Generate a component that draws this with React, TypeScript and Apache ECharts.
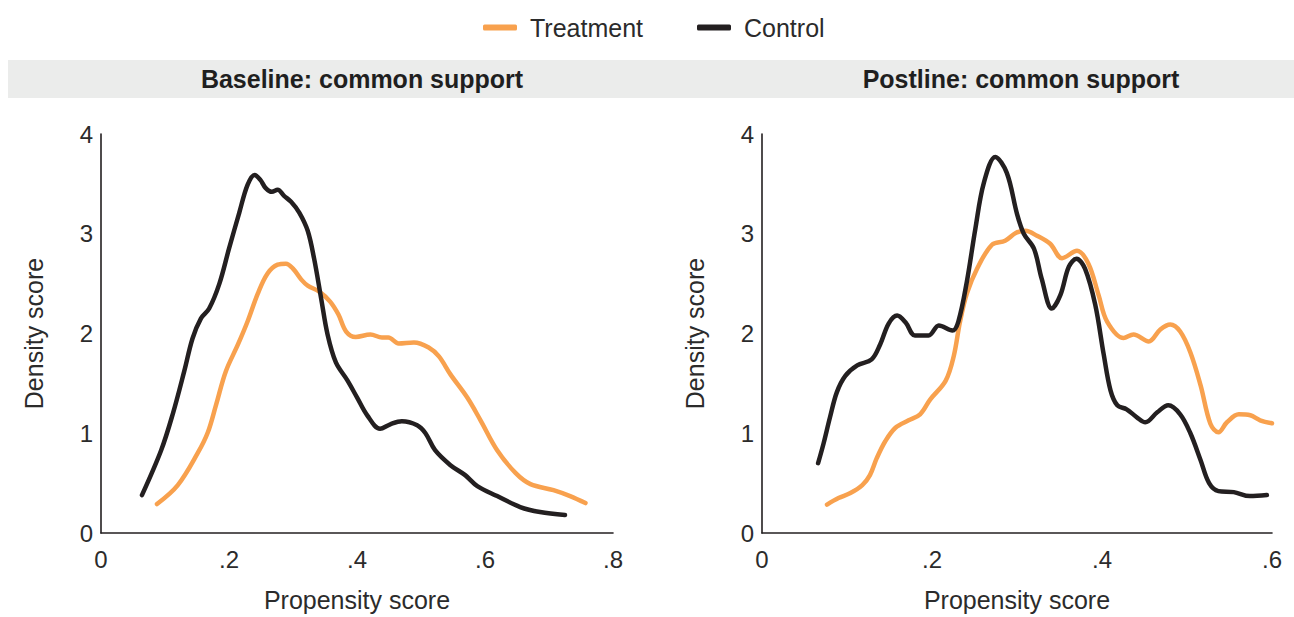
import React, { useEffect, useRef } from "react";
import * as echarts from "echarts";

// ---- Data ----
const seriesNames = ["Treatment", "Control"];
const panelTitles = ["Baseline: common support", "Postline: common support"];
const xTicksLeft = ["0", ".2", ".4", ".6", ".8"];
const xTicksRight = ["0", ".2", ".4", ".6"];
const yTicks = ["0", "1", "2", "3", "4"];

const baseTreatX = [0.0875, 0.12, 0.151, 0.167, 0.18, 0.195, 0.214, 0.229, 0.245, 0.26, 0.276, 0.289, 0.3, 0.313, 0.323, 0.341, 0.358, 0.371, 0.383, 0.398, 0.421, 0.439, 0.449, 0.465, 0.489, 0.512, 0.528, 0.546, 0.572, 0.593, 0.619, 0.648, 0.671, 0.707, 0.733, 0.757];
const baseTreatY = [0.29, 0.48, 0.8, 1.01, 1.29, 1.62, 1.89, 2.12, 2.4, 2.6, 2.69, 2.7, 2.65, 2.54, 2.48, 2.42, 2.32, 2.19, 2.02, 1.965, 1.99, 1.96, 1.96, 1.9, 1.91, 1.86, 1.77, 1.59, 1.36, 1.13, 0.83, 0.6, 0.49, 0.43, 0.37, 0.3];

const baseCtrlX = [0.064, 0.094, 0.112, 0.13, 0.143, 0.156, 0.169, 0.185, 0.2, 0.216, 0.229, 0.24, 0.249, 0.257, 0.267, 0.276, 0.286, 0.297, 0.31, 0.323, 0.333, 0.344, 0.354, 0.367, 0.385, 0.4, 0.416, 0.436, 0.452, 0.47, 0.494, 0.507, 0.522, 0.546, 0.569, 0.588, 0.619, 0.655, 0.686, 0.725];
const baseCtrlY = [0.38, 0.83, 1.19, 1.62, 1.95, 2.15, 2.25, 2.5, 2.85, 3.21, 3.49, 3.59, 3.54, 3.46, 3.42, 3.44, 3.38, 3.32, 3.21, 3.03, 2.75, 2.35, 1.99, 1.71, 1.53, 1.36, 1.18, 1.045, 1.09, 1.12, 1.08, 1.0, 0.83, 0.68, 0.58, 0.47, 0.37, 0.26, 0.21, 0.18];

const postTreatX = [0.0765, 0.09, 0.104, 0.118, 0.127, 0.135, 0.145, 0.157, 0.1725, 0.186, 0.198, 0.216, 0.2255, 0.233, 0.241, 0.253, 0.2706, 0.286, 0.299, 0.31, 0.3235, 0.339, 0.353, 0.3706, 0.384, 0.396, 0.406, 0.4255, 0.437, 0.455, 0.4686, 0.4804, 0.492, 0.504, 0.516, 0.5275, 0.537, 0.547, 0.561, 0.5745, 0.586, 0.6];
const postTreatY = [0.285, 0.35, 0.4, 0.48, 0.58, 0.75, 0.92, 1.055, 1.13, 1.19, 1.34, 1.525, 1.77, 2.12, 2.4, 2.65, 2.89, 2.93, 3.01, 3.03, 2.98, 2.9, 2.755, 2.83, 2.7, 2.385, 2.12, 1.955, 1.99, 1.92, 2.04, 2.09, 2.02, 1.81, 1.48, 1.095, 1.01, 1.11, 1.19, 1.18, 1.13, 1.1];

const postCtrlX = [0.066, 0.0725, 0.08, 0.088, 0.098, 0.112, 0.129, 0.139, 0.149, 0.159, 0.169, 0.18, 0.196, 0.208, 0.224, 0.231, 0.241, 0.251, 0.261, 0.2745, 0.288, 0.3, 0.308, 0.32, 0.329, 0.341, 0.351, 0.361, 0.37, 0.38, 0.392, 0.402, 0.41, 0.418, 0.429, 0.441, 0.451, 0.465, 0.478, 0.492, 0.504, 0.516, 0.526, 0.537, 0.555, 0.574, 0.594];
const postCtrlY = [0.7, 0.9, 1.16, 1.41, 1.575, 1.68, 1.74, 1.89, 2.1, 2.18, 2.11, 1.98, 1.98, 2.08, 2.03, 2.12, 2.52, 3.05, 3.51, 3.77, 3.61, 3.2, 3.0, 2.85, 2.55, 2.25, 2.385, 2.67, 2.75, 2.65, 2.29, 1.79, 1.43, 1.28, 1.24, 1.16, 1.11, 1.21, 1.28, 1.19, 1.0, 0.73, 0.5, 0.42, 0.41, 0.37, 0.38];

const ORANGE = "#F8A14E";
const BLACK = "#231F20";
const TEXT = "#2b2b2b";
const FONT = "Liberation Sans, Arial, Helvetica, sans-serif";

const zip = (xs: number[], ys: number[]) => xs.map((x, i) => [x, ys[i]]);

export default function App() {
  const ref = useRef<HTMLDivElement>(null);

  useEffect(() => {
    if (!ref.current) return;
    const chart = echarts.init(ref.current, undefined, { renderer: "svg" });

    const grids = [
      { left: 101, top: 134, width: 512, height: 403 },
      { left: 762, top: 134, width: 510, height: 403 },
    ];

    const axisLine = { show: true, lineStyle: { color: BLACK, width: 1.6 } };
    const labelStyle = { color: TEXT, fontSize: 24, fontFamily: FONT };
    const nameStyle = { color: TEXT, fontSize: 25, fontFamily: FONT };

    const xAxes = [
      { max: 0.8, ticks: xTicksLeft },
      { max: 0.6, ticks: xTicksRight },
    ].map((a, i) => ({
      type: "value",
      gridIndex: i,
      min: 0,
      max: a.max,
      interval: 0.2,
      name: "Propensity score",
      nameLocation: "middle",
      nameGap: 54,
      nameTextStyle: nameStyle,
      axisLine,
      axisTick: { show: false },
      splitLine: { show: false },
      axisLabel: {
        ...labelStyle,
        margin: 14,
        formatter: (_v: number, idx: number) => a.ticks[idx],
      },
    }));

    const yAxes = [0, 1].map((i) => ({
      type: "value",
      gridIndex: i,
      min: 0,
      max: 4,
      interval: 1,
      name: "Density score",
      nameLocation: "middle",
      nameGap: 55,
      nameTextStyle: nameStyle,
      axisLine,
      axisTick: { show: false },
      splitLine: { show: false },
      axisLabel: {
        ...labelStyle,
        margin: 8,
        formatter: (_v: number, idx: number) => yTicks[idx],
      },
    }));

    const mk = (name: string, color: string, data: number[][], idx: number, z: number) => ({
      type: "line",
      name,
      xAxisIndex: idx,
      yAxisIndex: idx,
      data,
      smooth: 0.35,
      symbol: "none",
      z,
      lineStyle: { color, width: 4.5, cap: "round", join: "round" },
      itemStyle: { color },
    });

    chart.setOption({
      animation: false,
      backgroundColor: "#ffffff",
      legend: {
        top: 15,
        left: 483,
        padding: 0,
        itemWidth: 34,
        itemHeight: 6,
        itemGap: 54,
        icon: "roundRect",
        data: seriesNames,
        textStyle: { color: TEXT, fontSize: 25, fontFamily: FONT, padding: [0, 0, 0, 8] },
      },
      graphic: [
        {
          type: "rect",
          shape: { x: 8, y: 60, width: 1286, height: 38 },
          style: { fill: "#EBECEB" },
          silent: true,
          z: -1,
        },
        {
          type: "text",
          x: 362,
          y: 79,
          style: {
            text: panelTitles[0],
            fill: "#1f1f1f",
            font: `bold 25px ${FONT}`,
            textAlign: "center",
            textVerticalAlign: "middle",
          },
        },
        {
          type: "text",
          x: 1021,
          y: 79,
          style: {
            text: panelTitles[1],
            fill: "#1f1f1f",
            font: `bold 25px ${FONT}`,
            textAlign: "center",
            textVerticalAlign: "middle",
          },
        },
      ],
      grid: grids,
      xAxis: xAxes,
      yAxis: yAxes,
      series: [
        mk(seriesNames[0], ORANGE, zip(baseTreatX, baseTreatY), 0, 2),
        mk(seriesNames[1], BLACK, zip(baseCtrlX, baseCtrlY), 0, 3),
        mk(seriesNames[0], ORANGE, zip(postTreatX, postTreatY), 1, 2),
        mk(seriesNames[1], BLACK, zip(postCtrlX, postCtrlY), 1, 3),
      ],
    });

    return () => chart.dispose();
  }, []);

  return (
    <div
      ref={ref}
      style={{ position: "absolute", left: 0, top: 0, width: 1294, height: 617 }}
    />
  );
}
